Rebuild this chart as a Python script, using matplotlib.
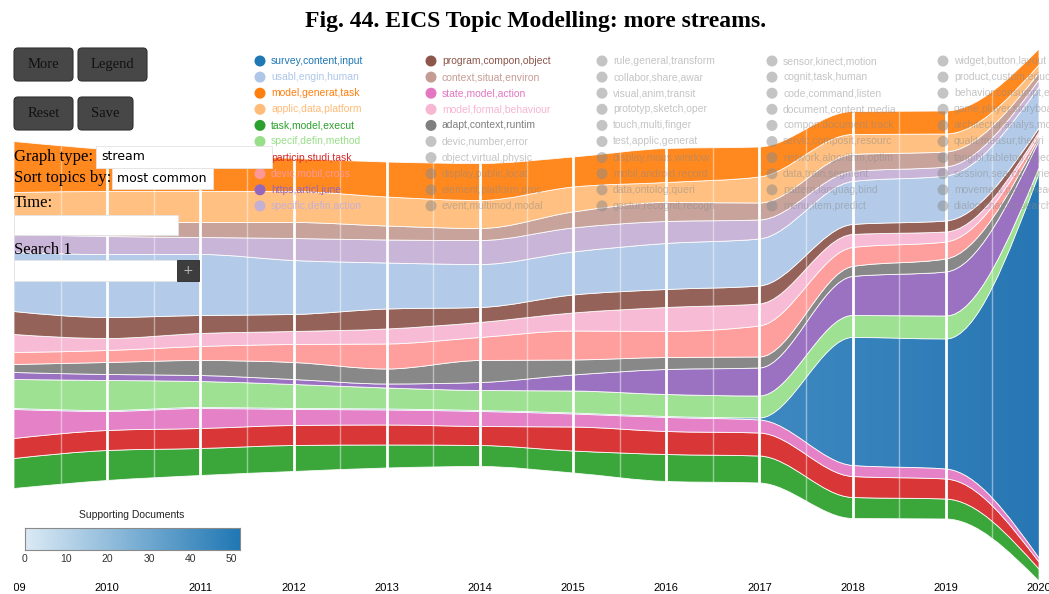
import numpy as np
import matplotlib.pyplot as plt
from matplotlib.path import Path
from matplotlib.patches import PathPatch, FancyBboxPatch, Circle, Rectangle
from matplotlib.colors import LinearSegmentedColormap

years = list(range(2009, 2021))

# topic weight per year, listed from the bottom of the stream upwards
task_model_execut      = [30, 30, 27, 26, 23, 21, 22, 27, 27, 21, 20, 12]
particip_studi_task    = [20, 20, 20, 20, 20, 19, 24, 23, 23, 21, 20, 7]
state_model_action     = [29, 19, 20, 16, 15, 15, 13, 14, 13, 11, 10, 4]
survey_content_input   = [1, 1, 1, 1, 1, 1, 1, 1, 2, 128, 130, 384]
specif_defin_method    = [29, 30, 26, 24, 21, 20, 22, 22, 22, 22, 23, 6]
https_articl_june      = [7, 6, 6, 5, 4, 8, 16, 25, 28, 39, 44, 27]
adapt_context_runtim   = [8, 12, 15, 17, 15, 22, 15, 12, 11, 10, 13, 3]
devic_mobil_cross      = [12, 12, 14, 18, 25, 23, 29, 26, 31, 19, 17, 3]
model_formal_behaviour = [18, 12, 13, 13, 15, 15, 18, 24, 22, 13, 10, 3]
program_compon_object  = [23, 21, 18, 17, 20, 15, 18, 18, 18, 10, 11, 4]
usabl_engin_human      = [59, 63, 61, 54, 46, 43, 43, 46, 47, 43, 45, 41]
specific_defin_action  = [18, 18, 17, 22, 23, 24, 24, 22, 19, 10, 9, 7]
context_situat_environ = [13, 14, 15, 16, 14, 12, 16, 19, 17, 17, 15, 7]
applic_data_platform   = [29, 31, 31, 31, 29, 28, 25, 20, 26, 20, 18, 8]
model_generat_task     = [51, 42, 37, 33, 35, 37, 30, 34, 30, 23, 23, 16]

stream = [
    (task_model_execut, '#2ca02c'),
    (particip_studi_task, '#d62728'),
    (state_model_action, '#e377c2'),
    (survey_content_input, '#1f77b4'),
    (specif_defin_method, '#98df8a'),
    (https_articl_june, '#9467bd'),
    (adapt_context_runtim, '#7f7f7f'),
    (devic_mobil_cross, '#ff9896'),
    (model_formal_behaviour, '#f7b6d2'),
    (program_compon_object, '#8c564b'),
    (usabl_engin_human, '#aec7e8'),
    (specific_defin_action, '#c5b0d5'),
    (context_situat_environ, '#c49c94'),
    (applic_data_platform, '#ffbb78'),
    (model_generat_task, '#ff7f0e'),
]

legend_labels = [
    'survey,content,input', 'usabl,engin,human', 'model,generat,task', 'applic,data,platform',
    'task,model,execut', 'specif,defin,method', 'particip,studi,task', 'devic,mobil,cross',
    'https,articl,june', 'specific,defin,action',
    'program,compon,object', 'context,situat,environ', 'state,model,action', 'model,formal,behaviour',
    'adapt,context,runtim', 'devic,number,error', 'object,virtual,physic', 'display,public,locat',
    'element,platform,proc', 'event,multimod,modal',
    'rule,general,transform', 'collabor,share,awar', 'visual,anim,transit', 'prototyp,sketch,oper',
    'touch,multi,finger', 'test,applic,generat', 'display,mous,window', 'mobil,android,record',
    'data,ontolog,queri', 'gestur,recognit,recogn',
    'sensor,kinect,motion', 'cognit,task,human', 'code,command,listen', 'document,content,media',
    'compon,document,track', 'servic,composit,resourc', 'network,algorithm,optim', 'data,train,segment',
    'pattern,languag,bind', 'menu,item,predict',
    'widget,button,layout', 'product,custom,educ', 'behavior,consumpt,energi', 'game,player,storyboard',
    'architectur,analys,model', 'qualit,measur,theori', 'tangibl,tabletop,object', 'session,search,retriev',
    'movement,gaze,head', 'dialog,chatbot,search',
]
legend_colors = ['#1f77b4', '#aec7e8', '#ff7f0e', '#ffbb78', '#2ca02c', '#98df8a', '#d62728',
                 '#ff9896', '#9467bd', '#c5b0d5', '#8c564b', '#c49c94', '#e377c2', '#f7b6d2',
                 '#7f7f7f']

cbar_ticks = [0, 10, 20, 30, 40, 50]
cbar_max = 52


def monotone_slopes(x, y):
    # same tangents as d3.curveMonotoneX
    h = np.diff(x)
    s = np.diff(y) / h
    t = np.zeros(len(y))
    for i in range(1, len(y) - 1):
        h0, h1, s0, s1 = h[i - 1], h[i], s[i - 1], s[i]
        p = (s0 * h1 + s1 * h0) / (h0 + h1)
        sg = (-1 if s0 < 0 else 1) + (-1 if s1 < 0 else 1)
        t[i] = sg * min(abs(s0), abs(s1), 0.5 * abs(p))
    t[0] = (3 * s[0] - t[1]) / 2
    t[-1] = (3 * s[-1] - t[-2]) / 2
    return t


def curve(x, y, backwards=False):
    t = monotone_slopes(x, y)
    segs = []
    for i in range(len(x) - 1):
        d = (x[i + 1] - x[i]) / 3
        c0 = (x[i] + d, y[i] + d * t[i])
        c1 = (x[i + 1] - d, y[i + 1] - d * t[i + 1])
        segs.append((c0, c1, (x[i], y[i]), (x[i + 1], y[i + 1])))
    verts = []
    if backwards:
        for c0, c1, p0, p1 in reversed(segs):
            verts += [c1, c0, p0]
    else:
        for c0, c1, p0, p1 in segs:
            verts += [c0, c1, p1]
    return verts


def band_path(x, lo, hi):
    verts = [(x[0], hi[0])] + curve(x, hi) + [(x[-1], lo[-1])] + curve(x, lo, True) + [(x[0], hi[0])]
    n = 3 * (len(x) - 1)
    codes = ([Path.MOVETO] + [Path.CURVE4] * n + [Path.LINETO] + [Path.CURVE4] * n
             + [Path.CLOSEPOLY])
    return Path(verts, codes)


W, H = 1049, 594
fig = plt.figure(figsize=(W / 100, H / 100), dpi=100)

# stream axes: 2009 sits 14px in, 2020 at 1039px
px_per_year = (1039 - 14) / 11
ax = fig.add_axes([14 / W, 0, (W - 14) / W, 1])
xlim = (2009, 2009 + (W - 14) / px_per_year)

x = np.array(years, float)
vals = np.array([v for v, _ in stream], float)
total = vals.sum(axis=0)
centre = H - 315
lower = centre - total / 2 + np.vstack([np.zeros(len(years)), np.cumsum(vals, axis=0)[:-1]])
upper = lower + vals

for k, (series, colour) in enumerate(stream):
    band = PathPatch(band_path(x, lower[k], upper[k]), edgecolor=(1, 1, 1, 0.4), lw=0.6, zorder=2)
    if series is survey_content_input:
        # the survey topic is shaded by its supporting documents
        band.set_facecolor('none')
        ax.add_patch(band)
        shade = LinearSegmentedColormap.from_list(
            'survey', [(0, '#4a90c5'), (8 / 11, '#3f89c1'), (1, '#2777b4')])
        im = ax.imshow(np.linspace(0, 1, 256)[None, :], cmap=shade, aspect='auto',
                       extent=(2009, 2020, 0, H), zorder=1.9)
        im.set_clip_path(band)
    else:
        band.set_facecolor(colour)
        band.set_alpha(0.93)
        ax.add_patch(band)

outline = PathPatch(band_path(x, lower[0], upper[-1]), transform=ax.transData,
                    facecolor='none', edgecolor='none')
ax.add_patch(outline)
year_lines = ax.vlines(years[1:-1], 0, H, colors='white', lw=2, zorder=3)
year_lines.set_clip_path(outline)
half_lines = ax.vlines(x[:-1] + 0.5, 0, H, colors='white', lw=1, alpha=0.45, zorder=3)
half_lines.set_clip_path(outline)

ax.set_xlim(*xlim)
ax.set_ylim(0, H)
ax.axis('off')

for yr in years:
    ax.text(yr, H - 588, str(yr), ha='center', va='center', fontsize=8,
            family='Liberation Sans', clip_on=True)

# control panel and topic legend, in pixel coordinates
ui = fig.add_axes([0, 0, 1, 1], zorder=2)
ui.set_xlim(0, W)
ui.set_ylim(H, 0)
ui.axis('off')

col_x = [260, 431, 602, 772, 943]
for i, lab in enumerate(legend_labels):
    col, row = divmod(i, 10)
    cx, cy = col_x[col], 61 + row * 16.1
    if i < len(legend_colors):
        c, a = legend_colors[i], 1.0
    else:
        c, a = '#8a8a8a', 0.5
    ui.add_patch(Circle((cx, cy), 5.5, facecolor=c, edgecolor='none', alpha=a, zorder=4))
    ui.text(cx + 11, cy, lab, ha='left', va='center', fontsize=7.5, color=c, alpha=a,
            family='Liberation Sans', zorder=4)


def button(x0, y0, w, h, label):
    ui.add_patch(FancyBboxPatch((x0, y0), w, h, boxstyle='round,pad=0,rounding_size=4',
                                facecolor='#474747', edgecolor='#303030', lw=0.8, zorder=5))
    ui.text(x0 + w / 2, y0 + h / 2, label, ha='center', va='center', fontsize=10.5,
            family='Liberation Serif', color='#111111', zorder=6)


def field(x0, y0, w, h, value=''):
    ui.add_patch(Rectangle((x0, y0), w, h, facecolor='white', edgecolor='#e4e4e4',
                           lw=0.6, zorder=5))
    if value:
        ui.text(x0 + 5, y0 + h / 2, value, ha='left', va='center', fontsize=9,
                family='DejaVu Sans', color='black', zorder=6)


button(14, 48, 59, 33, 'More')
button(78, 48, 69, 33, 'Legend')
button(14, 97, 59, 33, 'Reset')
button(78, 97, 55, 33, 'Save')

serif = dict(ha='left', va='center', fontsize=12, family='Liberation Serif', color='black', zorder=6)
ui.text(14, 157, 'Graph type:', **serif)
field(96, 146, 176, 22, 'stream')
ui.text(14, 178, 'Sort topics by:', **serif)
field(112, 168, 101, 21, 'most common')
ui.text(14, 203, 'Time:', **serif)
field(14, 215, 164, 20)
ui.text(14, 250, 'Search 1', **serif)
field(14, 260, 163, 21)
ui.add_patch(Rectangle((177, 260), 22, 21, facecolor='#3d3d3d', edgecolor='#2a2a2a', lw=0.6, zorder=5))
ui.text(188, 270.5, '+', ha='center', va='center', fontsize=9, color='#bbbbbb', zorder=6)

# supporting documents colour scale
ui.text(132, 515, 'Supporting Documents', ha='center', va='center', fontsize=7.5,
        family='Liberation Sans', color='#222222')
cax = fig.add_axes([25 / W, (H - 550) / H, 215 / W, 22 / H], zorder=3)
blues = LinearSegmentedColormap.from_list('docs', ['#dceaf5', '#1f77b4'])
cax.imshow(np.linspace(0, cbar_max, 256)[None, :], cmap=blues, aspect='auto',
           extent=(0, cbar_max, 0, 1))
cax.set_xlim(0, cbar_max)
cax.set_yticks([])
cax.set_xticks(cbar_ticks)
cax.tick_params(axis='x', length=0, pad=3, labelsize=7.5, labelcolor='#333333')
for lbl in cax.get_xticklabels():
    lbl.set_family('Liberation Sans')
for sp in cax.spines.values():
    sp.set_color('#8a8a8a')

fig.text(536 / W, 1 - 21 / H, 'Fig. 44. EICS Topic Modelling: more streams.', ha='center',
         va='center', fontsize=17, weight='bold', family='Liberation Serif')

fig.savefig('out.png', dpi=100)
